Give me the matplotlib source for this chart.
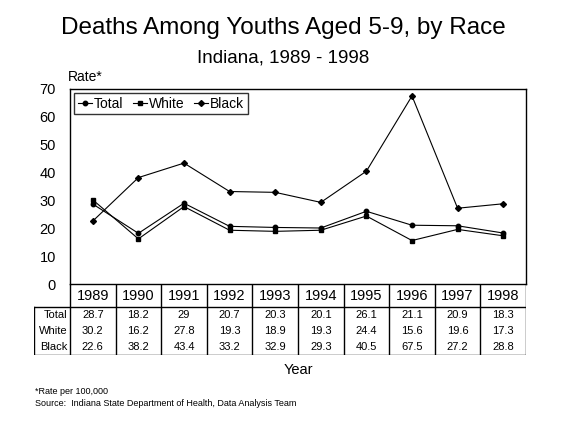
import matplotlib.pyplot as plt

plt.rcParams['font.family'] = ['Liberation Sans', 'DejaVu Sans']

years = ["1989", "1990", "1991", "1992", "1993", "1994", "1995", "1996", "1997", "1998"]
total = [28.7, 18.2, 29, 20.7, 20.3, 20.1, 26.1, 21.1, 20.9, 18.3]
white = [30.2, 16.2, 27.8, 19.3, 18.9, 19.3, 24.4, 15.6, 19.6, 17.3]
black = [22.6, 38.2, 43.4, 33.2, 32.9, 29.3, 40.5, 67.5, 27.2, 28.8]
series = [("Total", total, "o"), ("White", white, "s"), ("Black", black, "D")]

W, H = 566, 425
fig = plt.figure(figsize=(W / 100, H / 100), dpi=100)

# plot area in pixels
left, right, top, bottom = 70, 526, 89, 284
ax = fig.add_axes([left / W, 1 - bottom / H, (right - left) / W, (bottom - top) / H])

x = [i + 0.5 for i in range(len(years))]
for name, vals, mk in series:
    ax.plot(x, vals, color="black", linewidth=0.8, marker=mk,
            markersize=3.2 if mk != "D" else 3, label=name)

ax.set_xlim(0, len(years))
ax.set_ylim(0, 70)
ax.set_yticks(range(0, 71, 10))
ax.set_xticks([])
ax.tick_params(axis="y", length=0, pad=10, labelsize=10.5)
for s in ax.spines.values():
    s.set_linewidth(1)
    s.set_color("black")

leg = ax.legend(loc="upper left", ncol=3, fontsize=10, frameon=True, fancybox=False,
                edgecolor="black", handlelength=1.0, handletextpad=0.15,
                columnspacing=0.7, borderpad=0.25, borderaxespad=0.3)
leg.get_frame().set_linewidth(1)

# table below the plot
tleft, tbottom = 34, 355
col_w = (right - left) / len(years)
x0 = -(left - tleft) / col_w
tax = fig.add_axes([tleft / W, 1 - tbottom / H, (right - tleft) / W, (tbottom - bottom) / H])
tax.set_xlim(x0, len(years))
tax.set_ylim(tbottom - bottom, 0)
tax.axis("off")

year_h = 23
row_h = 16
lw = 1
tax.plot([x0, x0], [year_h, tbottom - bottom], color="black", lw=lw)
tax.plot([x0, len(years)], [year_h, year_h], color="black", lw=lw)
tax.plot([x0, len(years)], [tbottom - bottom, tbottom - bottom], color="black", lw=lw)
for i in range(len(years) + 1):
    tax.plot([i, i], [0, tbottom - bottom], color="black", lw=lw)

for i, yr in enumerate(years):
    tax.text(i + 0.5, year_h / 2 + 1, yr, ha="center", va="center", fontsize=10.5)
    for r, (name, vals, mk) in enumerate(series):
        tax.text(i + 0.5, year_h + row_h * (r + 0.5), f"{vals[i]:g}",
                 ha="center", va="center", fontsize=8)

for r, (name, vals, mk) in enumerate(series):
    tax.text(-0.06, year_h + row_h * (r + 0.5), name, ha="right", va="center", fontsize=8)

# titles and labels
fig.text(0.5, 1 - 28 / H, "Deaths Among Youths Aged 5-9, by Race", ha="center",
         va="center", fontsize=17.5)
fig.text(0.5, 1 - 58 / H, "Indiana, 1989 - 1998", ha="center", va="center", fontsize=13.5)
fig.text(68 / W, 1 - 77 / H, "Rate*", ha="left", va="center", fontsize=10)
fig.text(298 / W, 1 - 370 / H, "Year", ha="center", va="center", fontsize=10.5)
fig.text(35 / W, 1 - 392 / H, "*Rate per 100,000", ha="left", va="center", fontsize=6.5)
fig.text(35 / W, 1 - 403 / H, "Source:  Indiana State Department of Health, Data Analysis Team",
         ha="left", va="center", fontsize=6.5)

fig.savefig("out.png", dpi=100)
